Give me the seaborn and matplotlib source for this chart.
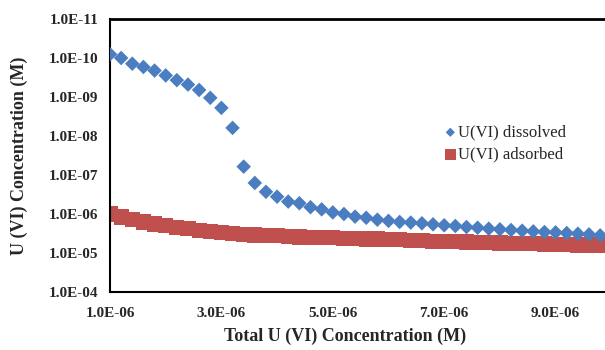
import numpy as np
import pandas as pd
import matplotlib
matplotlib.use("Agg")
import matplotlib.pyplot as plt
import seaborn as sns
from matplotlib.ticker import FuncFormatter, MultipleLocator, LogLocator, NullFormatter

# Total U(VI) concentration (M)
total_u = [1.0e-6, 1.2e-6, 1.4e-6, 1.6e-6, 1.8e-6, 2.0e-6, 2.2e-6, 2.4e-6, 2.6e-6, 2.8e-6,
           3.0e-6, 3.2e-6, 3.4e-6, 3.6e-6, 3.8e-6, 4.0e-6, 4.2e-6, 4.4e-6, 4.6e-6, 4.8e-6,
           5.0e-6, 5.2e-6, 5.4e-6, 5.6e-6, 5.8e-6, 6.0e-6, 6.2e-6, 6.4e-6, 6.6e-6, 6.8e-6,
           7.0e-6, 7.2e-6, 7.4e-6, 7.6e-6, 7.8e-6, 8.0e-6, 8.2e-6, 8.4e-6, 8.6e-6, 8.8e-6,
           9.0e-6, 9.2e-6, 9.4e-6, 9.6e-6, 9.8e-6]

# U(VI) dissolved (M)
dissolved = [8.0e-11, 1.0e-10, 1.4e-10, 1.7e-10, 2.1e-10, 2.8e-10, 3.7e-10, 4.8e-10, 6.6e-10, 1.05e-9,
             1.9e-9, 6.2e-9, 6.1e-8, 1.6e-7, 2.7e-7, 3.6e-7, 4.8e-7, 5.3e-7, 6.7e-7, 7.6e-7,
             9.1e-7, 1.0e-6, 1.17e-6, 1.25e-6, 1.4e-6, 1.5e-6, 1.6e-6, 1.66e-6, 1.73e-6, 1.84e-6,
             1.95e-6, 2.03e-6, 2.16e-6, 2.25e-6, 2.38e-6, 2.47e-6, 2.57e-6, 2.68e-6, 2.79e-6, 2.9e-6,
             2.96e-6, 3.08e-6, 3.2e-6, 3.33e-6, 3.53e-6]

# U(VI) adsorbed (M)
adsorbed = [1.0e-6, 1.2e-6, 1.4e-6, 1.6e-6, 1.8e-6, 2.0e-6, 2.2e-6, 2.4e-6, 2.6e-6, 2.8e-6,
            3.0e-6, 3.19e-6, 3.34e-6, 3.44e-6, 3.53e-6, 3.64e-6, 3.72e-6, 3.87e-6, 3.93e-6, 4.04e-6,
            4.09e-6, 4.2e-6, 4.23e-6, 4.35e-6, 4.4e-6, 4.5e-6, 4.6e-6, 4.73e-6, 4.87e-6, 4.96e-6,
            5.05e-6, 5.17e-6, 5.25e-6, 5.35e-6, 5.42e-6, 5.53e-6, 5.6e-6, 5.7e-6, 5.78e-6, 5.9e-6,
            6.0e-6, 6.1e-6, 6.2e-6, 6.27e-6, 6.3e-6]

series_labels = ["U(VI) dissolved", "U(VI) adsorbed"]
x_ticks = [1.0e-6, 3.0e-6, 5.0e-6, 7.0e-6, 9.0e-6]
y_ticks = [1e-11, 1e-10, 1e-9, 1e-8, 1e-7, 1e-6, 1e-5, 1e-4]

df_d = pd.DataFrame({"x": total_u, "y": dissolved})
df_a = pd.DataFrame({"x": total_u, "y": adsorbed})

sns.set_style("white")
plt.rcParams["font.family"] = ["Liberation Serif", "DejaVu Serif"]

fig = plt.figure(figsize=(6.05, 3.5), dpi=100)
left_px, right_px, top_px, bot_px = 110, 667, 19, 292
W = right_px - left_px
H = bot_px - top_px
ax = fig.add_axes([left_px / 605, 1 - bot_px / 350, W / 605, H / 350])

blue = "#4A7EC0"
red = "#C0504D"

sns.scatterplot(data=df_a, x="x", y="y", ax=ax, marker="s", s=120, color=red,
                edgecolor="none", label=series_labels[1], zorder=2)
sns.scatterplot(data=df_d, x="x", y="y", ax=ax, marker="D", s=55, color=blue,
                edgecolor="none", label=series_labels[0], zorder=3)

ax.set_yscale("log")
ax.set_ylim(1e-4, 1e-11)
ax.set_xlim(1.0e-6, 1.1e-5)

fmt = FuncFormatter(lambda v, p: f"{v:.1E}")
ax.set_xticks(x_ticks)
ax.set_yticks(y_ticks)
ax.xaxis.set_major_formatter(fmt)
ax.yaxis.set_major_formatter(fmt)
ax.xaxis.set_minor_locator(MultipleLocator(2e-7))
ax.yaxis.set_minor_locator(LogLocator(base=10, subs=np.arange(2, 10), numticks=20))
ax.yaxis.set_minor_formatter(NullFormatter())

ax.tick_params(axis="both", which="major", direction="inout", length=7, width=1.0,
               labelsize=11, color="black", pad=5)
ax.tick_params(axis="both", which="minor", direction="in", length=4, width=0.8, color="black")
ax.tick_params(axis="x", which="major", pad=7)
for lab in ax.get_xticklabels() + ax.get_yticklabels():
    lab.set_fontweight("bold")

for side in ["top", "left", "bottom", "right"]:
    ax.spines[side].set_color("black")
    ax.spines[side].set_linewidth(1.5)
ax.spines["top"].set_linewidth(2.0)

ax.set_xlabel("Total U (VI) Concentration (M)", fontsize=13, fontweight="bold")
ax.set_ylabel("U (VI) Concentration (M)", fontsize=13, fontweight="bold")
ax.xaxis.set_label_coords((345 - left_px) / W, -(328 - bot_px) / H)
ax.yaxis.set_label_coords(-(110 - 28) / W, 0.5)

handles, labels = ax.get_legend_handles_labels()
order = [labels.index(series_labels[0]), labels.index(series_labels[1])]
if ax.get_legend():
    ax.get_legend().remove()
leg = fig.legend([handles[i] for i in order], [labels[i] for i in order],
                 loc="upper left", bbox_to_anchor=(437 / 605, 1 - 118 / 350),
                 frameon=False, fontsize=12, handletextpad=0.05, handlelength=0.8,
                 labelspacing=0.35, borderaxespad=0)
for h, sz in zip(leg.legend_handles, [22, 65]):
    h.set_sizes([sz])

fig.savefig("out.png", dpi=100)
